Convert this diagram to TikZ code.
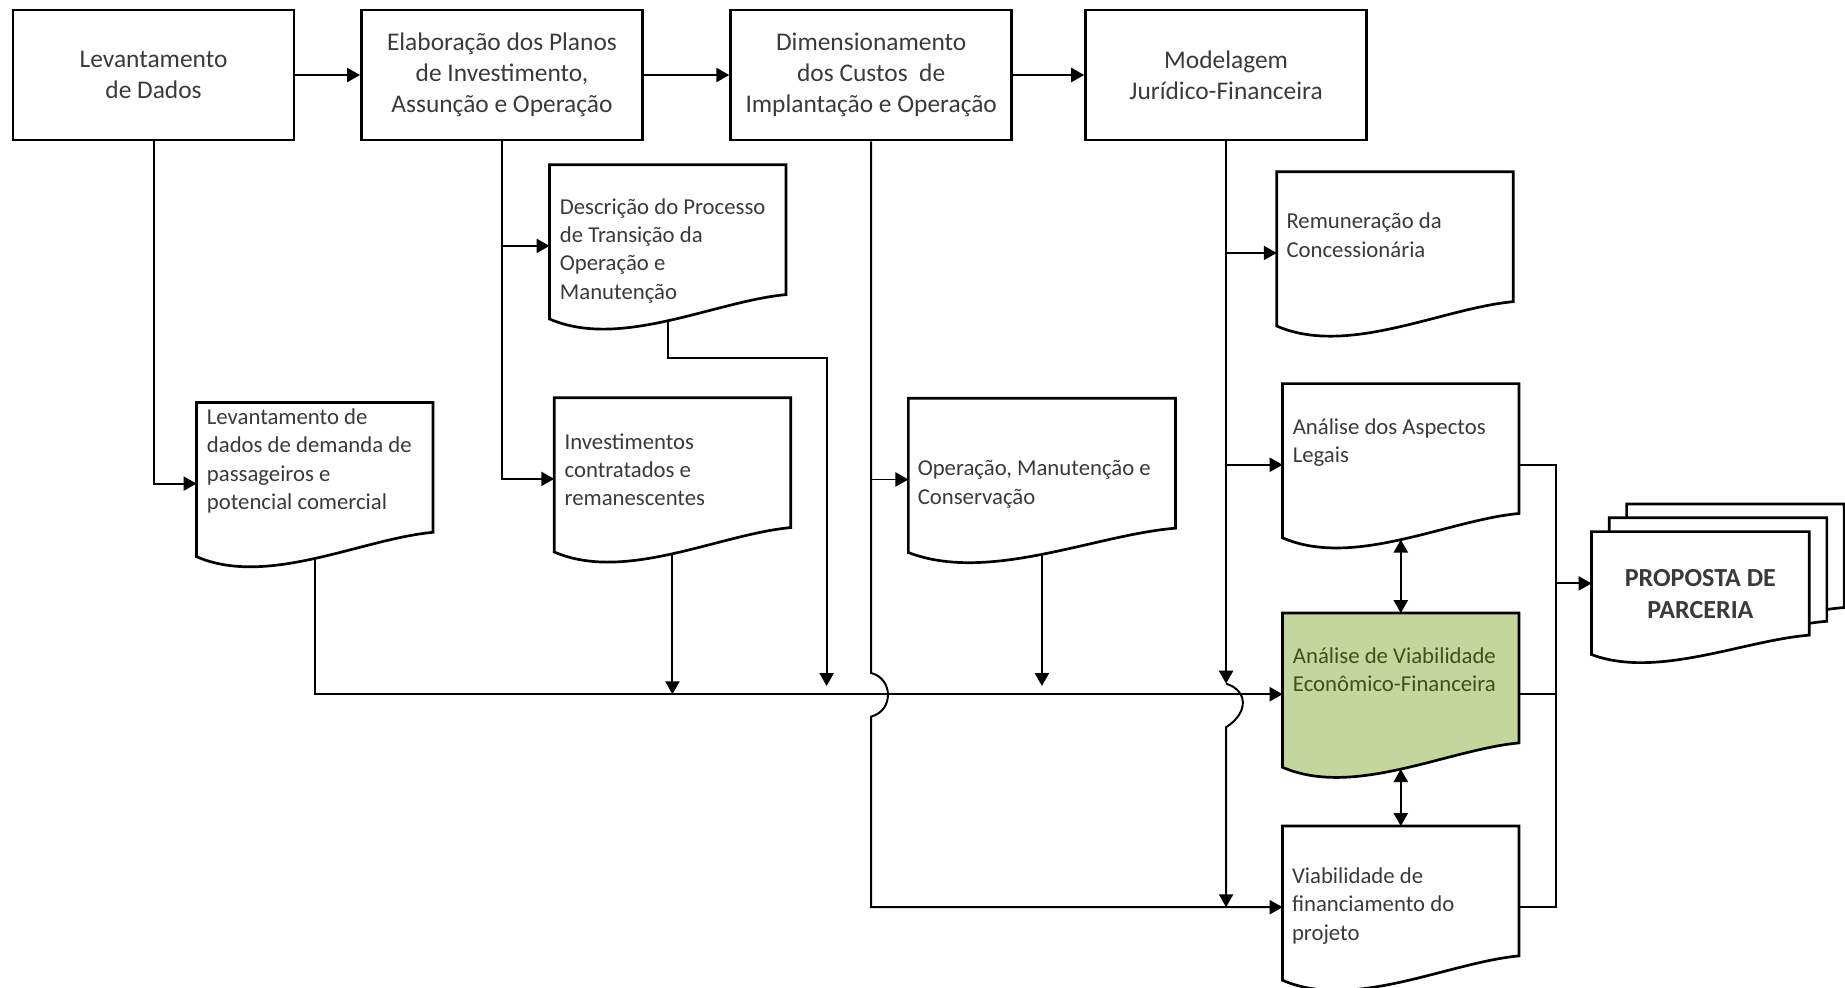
\documentclass[tikz,border=0pt]{standalone}
\usepackage{fontspec}
\setmainfont{Carlito}
\usetikzlibrary{arrows.meta,calc}

\definecolor{verde}{HTML}{C3D69B}
\definecolor{verdeesc}{HTML}{3F4F1F}
\definecolor{cinza}{HTML}{3A3A3A}

\newcommand{\documento}[2][white]{%
	\draw[forma, fill=#1] let \p1=(#2.north west), \p2=(#2.south east),
		\n1={\x2-\x1}, \n2={\y1-\y2} in
		(\x1,\y1) -- (\x2,\y1) -- (\x2,{\y1-0.8*\n2})
		.. controls ({\x2-0.3*\n1},{\y1-0.84*\n2}) and ({\x1+0.3*\n1},{\y1-1.14*\n2}) ..
		(\x1,{\y1-0.95*\n2}) coordinate[pos=0.5] (#2-bot) -- cycle;
}

\begin{document}
\begin{tikzpicture}[x=0.02cm, y=-0.02cm,
	forma/.style={line width=1.3pt},
	etapa/.style={draw, forma, minimum width=4.78cm, minimum height=2.21cm, inner sep=2pt, align=center, text=cinza, font=\fontsize{12.3}{15}\selectfont},
	doc/.style={anchor=north west, minimum width=4.02cm, minimum height=2.76cm, inner sep=0pt, outer sep=0pt},
	pagina/.style={doc, minimum width=3.7cm, minimum height=2.2cm},
	txt/.style={anchor=west, align=left, inner sep=0pt, text=cinza, font=\fontsize{11}{13.7}\selectfont},
	lig/.style={line width=0.95pt},
	seta/.style={lig, -{Triangle[length=2.2mm, width=2.4mm]}},
	dupla/.style={lig, {Triangle[length=2.2mm, width=2.4mm]}-{Triangle[length=2.2mm, width=2.4mm]}}]

	\useasboundingbox (0,0) rectangle (1568,839);

	\node[etapa] (dados) at (130.5,63.75) {Levantamento\\de Dados};
	\node[etapa] (planos) at (426.6,63.75) {Elaboração dos Planos\\de Investimento,\\Assunção e Operação};
	\node[etapa] (custos) at (740.4,63.75) {Dimensionamento\\dos Custos\ \ de\\Implantação e Operação};
	\node[etapa] (modelagem) at (1042,63.75) {Modelagem\\Jurídico-Financeira};

	\node[doc] (desc) at (467,140) {};
	\documento{desc}
	\node[txt] (desc-txt) at ($(desc.north west)+(8.5,73)$) {Descrição do Processo\\de Transição da\\Operação e\\Manutenção};

	\node[doc] (levdem) at (167,342) {};
	\documento{levdem}
	\node[txt] (levdem-txt) at ($(levdem.north west)+(8.5,49.6)$) {Levantamento de\\dados de demanda de\\passageiros e\\potencial comercial};

	\node[doc] (invest) at (471,338) {};
	\documento{invest}
	\node[txt] (invest-txt) at ($(invest.north west)+(8.5,61.2)$) {Investimentos\\contratados e\\remanescentes};

	\node[doc, minimum width=4.54cm] (operacao) at (772,338.5) {};
	\documento{operacao}
	\node[txt] (operacao-txt) at ($(operacao.north west)+(7.6,73)$) {Operação, Manutenção e\\Conservação};

	\node[doc] (remun) at (1085,146) {};
	\documento{remun}
	\node[txt] (remun-txt) at ($(remun.north west)+(8,54)$) {Remuneração da\\Concessionária};

	\node[doc] (legais) at (1090,326) {};
	\documento{legais}
	\node[txt] (legais-txt) at ($(legais.north west)+(8.3,50)$) {Análise dos Aspectos\\Legais};

	\node[doc] (viab) at (1090,521) {};
	\documento[verde]{viab}
	\node[txt, text=verdeesc] (viab-txt) at ($(viab.north west)+(8.5,48)$) {Análise de Viabilidade\\Econômico-Financeira};

	\node[doc] (financ) at (1090,702) {};
	\documento{financ}
	\node[txt] (financ-txt) at ($(financ.north west)+(7.7,68)$) {Viabilidade de\\financiamento do\\projeto};

	\node[pagina] (proposta3) at (1382.4,428.3) {};
	\documento{proposta3}
	\node[pagina] (proposta2) at (1367.6,440) {};
	\documento{proposta2}
	\node[pagina] (proposta) at (1352.6,451.8) {};
	\documento{proposta}
	\node[align=center, text=cinza, font=\bfseries\fontsize{12.6}{15.3}\selectfont] (proposta-txt) at ($(proposta.north)+(0,53)$) {PROPOSTA DE\\PARCERIA};

	\coordinate (descvolta) at (702.5,304.5);
	\coordinate (pulo1a) at ($(custos.south |- viab.west)+(0,-18)$);
	\coordinate (pulo1b) at ($(custos.south |- viab.west)+(0,19)$);
	\coordinate (pulo2a) at ($(modelagem.south |- viab.west)+(0,-9)$);
	\coordinate (pulo2b) at ($(modelagem.south |- viab.west)+(0,28)$);
	\coordinate (barra) at (1322,0);
	\coordinate (propin) at ($(proposta.north west)+(0,44)$);

	\draw[seta] (dados.east) -- (planos.west);
	\draw[seta] (planos.east) -- (custos.west);
	\draw[seta] (custos.east) -- (modelagem.west);

	\draw[seta] (dados.south) |- (levdem.west);
	\draw[seta] (planos.south) |- (invest.west);
	\draw[seta] (planos.south |- desc.west) -- (desc.west);
	\draw[seta] (custos.south |- operacao.west) -- (operacao.west);
	\draw[seta] (custos.south) -- (pulo1a) .. controls +(19,5) and +(19,-5) .. (pulo1b) |- (financ.west);
	\draw[seta] (modelagem.south |- remun.west) -- (remun.west);
	\draw[seta] (modelagem.south |- legais.west) -- (legais.west);
	\draw[seta] (modelagem.south) -- (pulo2a);
	\draw[seta] (pulo2a) .. controls +(19,6) and +(19,-12) .. (pulo2b) -- (modelagem.south |- financ.west);

	\draw[seta] (levdem-bot) |- (viab.west);
	\draw[seta] (invest-bot) -- (invest-bot |- viab.west);
	\draw[seta] (desc-bot) |- (descvolta) -- ($(descvolta |- viab.west)+(0,-7)$);
	\draw[seta] (operacao-bot) -- ($(operacao-bot |- viab.west)+(0,-7)$);

	\draw[dupla] (legais-bot) -- (viab.north);
	\draw[dupla] (viab-bot) -- (financ.north);

	\draw[lig] (legais.east) -| (barra |- financ.east) -- (financ.east);
	\draw[lig] (viab.east) -- (barra |- viab.east);
	\draw[seta] (barra |- propin) -- (propin);

\end{tikzpicture}
\end{document}
